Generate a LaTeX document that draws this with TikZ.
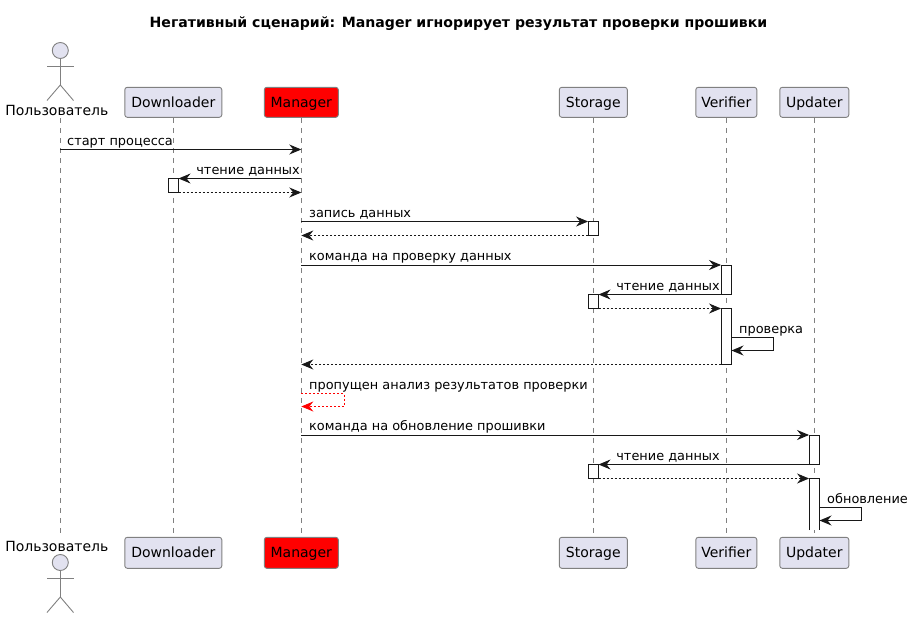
\documentclass[tikz,border=0pt]{standalone}
\usepackage{fontspec}
\usepackage{xcolor}
\setmainfont{DejaVu Sans}
\usetikzlibrary{calc}
\usetikzlibrary{arrows.meta}

\definecolor{partfill}{HTML}{E2E2F0}
\definecolor{inkline}{HTML}{181818}
\definecolor{partline}{HTML}{808080}

\tikzset{
	part/.style={draw=partline, line width=0.9pt, fill=partfill, rounded corners=2.5pt, minimum height=30pt, inner sep=0pt, text height=12pt, text depth=1.8pt, text=black, font=\fontsize{14}{16}\selectfont},
	partred/.style={part, fill=red},
	act/.style={draw=inkline, line width=1pt, fill=white, minimum width=10.5pt, inner sep=0pt, outer sep=0pt},
	lifeline/.style={draw=partline, line width=0.9pt, dash pattern=on 5pt off 5pt},
	stick/.style={draw=partline, line width=0.9pt},
	msg/.style={draw=inkline, line width=1pt, -{Stealth[length=12pt,width=10pt,inset=4pt]}},
	reply/.style={msg, dash pattern=on 2pt off 2pt},
	txt/.style={anchor=base west, inner sep=0pt, text=black, font=\fontsize{12.9}{15}\selectfont},
	txtl/.style={txt, anchor=base east},
	actor/.style={anchor=base, inner sep=0pt, text=black, font=\fontsize{14}{16}\selectfont}
}

\begin{document}
\begin{tikzpicture}[x=1pt, y=-1pt]
		\useasboundingbox (0,0) rectangle (912,618);

		\node[anchor=base, inner sep=0pt, font=\fontsize{14.1}{16}\bfseries\selectfont] (title) at (458.5,28) {Негативный сценарий: Manager игнорирует результат проверки прошивки};

		% top row
		\node[part, minimum width=97pt] (dlt) at (173.3,102.3) {Downloader};
		\node[partred, minimum width=74pt] (mgt) at (301.3,102.3) {Manager};
		\node[part, minimum width=68pt] (stt) at (593.3,102.3) {Storage};
		\node[part, minimum width=61pt] (vrt) at (726.3,102.3) {Verifier};
		\node[part, minimum width=69pt] (upt) at (814.3,102.3) {Updater};
		% bottom row
		\node[part, minimum width=97pt, minimum height=31pt] (dlb) at (173.3,552.8) {Downloader};
		\node[partred, minimum width=74pt, minimum height=31pt] (mgb) at (301.3,552.8) {Manager};
		\node[part, minimum width=68pt, minimum height=31pt] (stb) at (593.3,552.8) {Storage};
		\node[part, minimum width=61pt, minimum height=31pt] (vrb) at (726.3,552.8) {Verifier};
		\node[part, minimum width=69pt, minimum height=31pt] (upb) at (814.3,552.8) {Updater};

		% actor, top
		\node[actor] (ust) at (56.8,115) {Пользователь};
		\node[stick, circle, fill=partfill, minimum size=16pt, inner sep=0pt] (headt) at (60.3,50.5) {};
		\coordinate (hipt) at (60.3,85);
		\draw[stick] (headt) -- (hipt);
		\draw[stick] (47,66) -- (73.5,66);
		\draw[stick] (47,100.5) -- (hipt) -- (73.5,100.5);
		% actor, bottom
		\node[actor] (usb) at (56.8,551) {Пользователь};
		\node[stick, circle, fill=partfill, minimum size=16pt, inner sep=0pt] (headb) at (60.3,562.5) {};
		\coordinate (hipb) at (60.3,597);
		\draw[stick] (headb) -- (hipb);
		\draw[stick] (47,578) -- (73.5,578);
		\draw[stick] (47,612.5) -- (hipb) -- (73.5,612.5);

		% lifelines
		\coordinate (ustop) at (60.3,118);
		\coordinate (usend) at (60.3,535);
		\draw[lifeline] (ustop) -- (usend);
		\foreach \a/\b in {dlt/dlb, mgt/mgb, stt/stb, vrt/vrb, upt/upb} {
			\draw[lifeline] (\a.south) -- (\b.north);
		}

		% activations
		\node[act, minimum height=14pt] (a1) at (173.3,185.5) {};
		\node[act, minimum height=14pt] (a2) at (593.3,228.5) {};
		\node[act, minimum height=29.5pt] (a3) at (726.3,279.75) {};
		\node[act, minimum height=14pt] (a4) at (593.3,301.5) {};
		\node[act, minimum height=56pt] (a5) at (726.3,336.5) {};
		\node[act, minimum height=29.5pt] (a6) at (814.3,449.75) {};
		\node[act, minimum height=14pt] (a7) at (593.3,471.5) {};
		\node[act, draw=none, minimum height=51.5pt] (a8) at (814.3,504.25) {};
		\draw[draw=inkline, line width=1pt] (a8.south west) |- (a8.north east) -- (a8.south east);

		% messages
		\draw[msg] (ustop |- 0,149.5) -- (mgt |- 0,149.5);
		\node[txt] (m1) at (67,145) {старт процесса};

		\draw[msg] (mgt |- a1.north) -- (a1.north east);
		\node[txtl] (m2) at (300,174) {чтение данных};
		\draw[reply] (a1.south east) -- (mgt |- a1.south);

		\draw[msg] (mgt |- a2.north) -- (a2.north west);
		\node[txt] (m3) at (309,217) {запись данных};
		\draw[reply] (a2.south west) -- (mgt |- a2.south);

		\draw[msg] (mgt |- a3.north) -- (a3.north west);
		\node[txt] (m4) at (309,260.5) {команда на проверку данных};

		\draw[msg] (a3.south west) -- (a4.north east);
		\node[txtl] (m5) at (720,290) {чтение данных};
		\draw[reply] (a4.south east) -- (a5.north west);

		\coordinate (s1) at (773,337.5);
		\coordinate (s2) at (773,350.5);
		\coordinate (s3) at (731.5,350.5);
		\draw[msg] (a5.east |- s1) -- (s1) -- (s2) -- (s3);
		\node[txt] (m6) at (739,333) {проверка};
		\draw[reply] (a5.south west) -- (mgt |- a5.south);

		\coordinate (r1) at (344,393.5);
		\coordinate (r2) at (344,406.5);
		\draw[reply, draw=red] (mgt |- r1) -- (r1) -- (r2) -- (mgt |- r2);
		\node[txt] (m7) at (309,389) {пропущен анализ результатов проверки};

		\draw[msg] (mgt |- a6.north) -- (a6.north west);
		\node[txt] (m8) at (309,430.5) {команда на обновление прошивки};

		\draw[msg] (a6.south west) -- (a7.north east);
		\node[txtl] (m9) at (720,460) {чтение данных};
		\draw[reply] (a7.south east) -- (a8.north west);

		\coordinate (u1) at (861.5,507.5);
		\coordinate (u2) at (861.5,520.5);
		\coordinate (u3) at (819.5,520.5);
		\draw[msg] (a8.east |- u1) -- (u1) -- (u2) -- (u3);
		\node[txt] (m10) at (827,503) {обновление};
		\end{tikzpicture}
\end{document}
